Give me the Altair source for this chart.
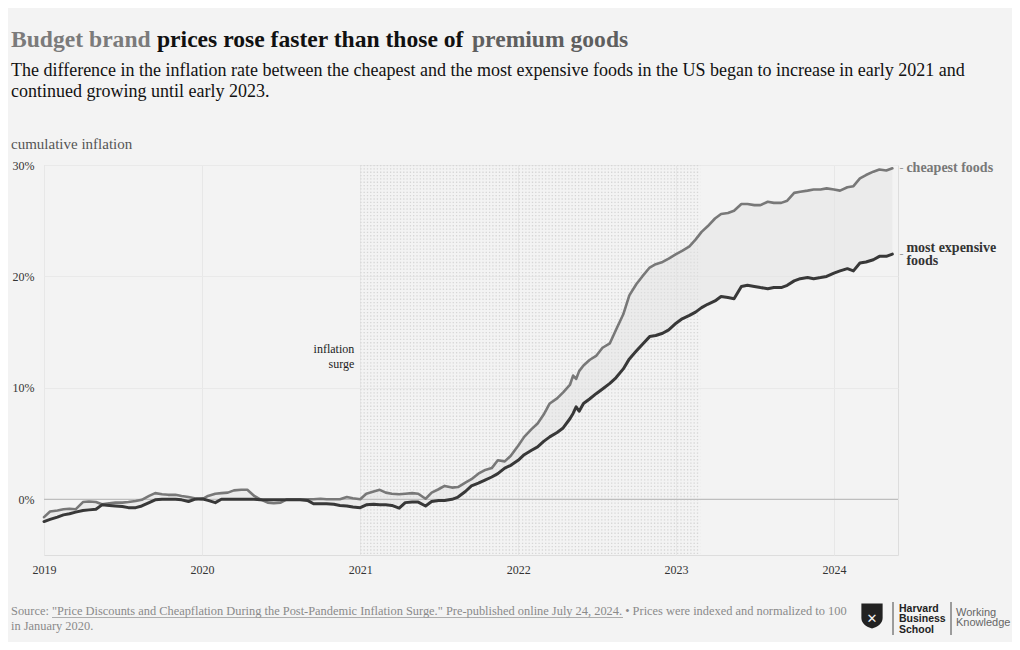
import altair as alt
import pandas as pd

SERIF = "Liberation Serif"
SANS = "Liberation Sans"

# ---------------- data ----------------
dates_2019 = ["2019-01-01", "2019-01-15", "2019-02-01", "2019-02-15", "2019-03-01", "2019-03-15",
              "2019-04-01", "2019-04-15", "2019-05-01", "2019-05-15", "2019-06-01", "2019-06-15",
              "2019-07-01", "2019-07-15", "2019-08-01", "2019-08-15", "2019-09-01", "2019-09-15",
              "2019-10-01", "2019-10-15", "2019-11-01", "2019-11-15", "2019-12-01", "2019-12-15"]
dates_2020 = ["2020-01-01", "2020-01-15", "2020-02-01", "2020-02-15", "2020-03-01", "2020-03-15",
              "2020-04-01", "2020-04-15", "2020-05-01", "2020-05-15", "2020-06-01", "2020-06-15",
              "2020-07-01", "2020-07-15", "2020-08-01", "2020-08-15", "2020-09-01", "2020-09-15",
              "2020-10-01", "2020-10-15", "2020-11-01", "2020-11-15", "2020-12-01", "2020-12-15"]
dates_2021 = ["2021-01-01", "2021-01-15", "2021-02-01", "2021-02-15", "2021-03-01", "2021-03-15",
              "2021-04-01", "2021-04-15", "2021-05-01", "2021-05-15", "2021-06-01", "2021-06-15",
              "2021-07-01", "2021-07-15", "2021-08-01", "2021-08-15", "2021-09-01", "2021-09-15",
              "2021-10-01", "2021-10-15", "2021-11-01", "2021-11-15", "2021-12-01", "2021-12-15"]
dates_2022 = ["2022-01-01", "2022-01-15", "2022-02-01", "2022-02-15", "2022-03-01", "2022-03-15",
              "2022-04-01", "2022-04-15", "2022-05-01", "2022-05-08", "2022-05-15", "2022-05-22",
              "2022-06-01", "2022-06-15", "2022-07-01", "2022-07-15", "2022-08-01", "2022-08-15",
              "2022-09-01", "2022-09-15", "2022-10-01", "2022-10-15", "2022-11-01", "2022-11-15",
              "2022-12-01", "2022-12-15"]
dates_2023 = ["2023-01-01", "2023-01-15", "2023-02-01", "2023-02-15", "2023-03-01", "2023-03-15",
              "2023-04-01", "2023-04-15", "2023-05-01", "2023-05-15", "2023-06-01", "2023-06-15",
              "2023-07-01", "2023-07-15", "2023-08-01", "2023-08-15", "2023-09-01", "2023-09-15",
              "2023-10-01", "2023-10-15", "2023-11-01", "2023-11-15", "2023-12-01", "2023-12-15"]
dates_2024 = ["2024-01-01", "2024-01-15", "2024-02-01", "2024-02-15", "2024-03-01", "2024-03-15",
              "2024-04-01", "2024-04-15", "2024-05-01", "2024-05-15"]

cheapest_2019 = [-1.6, -1.1, -1.0, -0.9, -0.85, -0.9, -0.25, -0.2, -0.25, -0.45, -0.35, -0.3,
                 -0.3, -0.25, -0.15, -0.05, 0.3, 0.55, 0.45, 0.4, 0.4, 0.3, 0.2, 0.1]
cheapest_2020 = [0.0, 0.3, 0.5, 0.55, 0.6, 0.8, 0.85, 0.85, 0.3, 0.0, -0.3, -0.35,
                 -0.3, 0.0, 0.0, 0.0, 0.0, 0.0, 0.05, 0.0, 0.0, 0.0, 0.2, 0.1]
cheapest_2021 = [0.0, 0.5, 0.7, 0.85, 0.6, 0.5, 0.45, 0.5, 0.55, 0.5, 0.05, 0.6,
                 0.9, 1.2, 1.05, 1.1, 1.5, 1.8, 2.3, 2.6, 2.8, 3.5, 3.4, 3.9]
cheapest_2022 = [4.8, 5.6, 6.3, 6.8, 7.6, 8.6, 9.05, 9.6, 10.3, 11.1, 10.8, 11.5,
                 12.0, 12.5, 12.9, 13.6, 14.0, 15.2, 16.6, 18.3, 19.3, 20.0, 20.8, 21.1,
                 21.3, 21.6]
cheapest_2023 = [22.0, 22.3, 22.7, 23.3, 24.0, 24.5, 25.2, 25.6, 25.7, 25.9, 26.5, 26.5,
                 26.4, 26.4, 26.7, 26.6, 26.6, 26.8, 27.5, 27.6, 27.7, 27.8, 27.8, 27.9]
cheapest_2024 = [27.8, 27.7, 28.0, 28.1, 28.8, 29.1, 29.4, 29.6, 29.5, 29.7]

expensive_2019 = [-2.0, -1.8, -1.6, -1.4, -1.3, -1.15, -1.0, -0.95, -0.9, -0.5, -0.55, -0.6,
                  -0.65, -0.75, -0.75, -0.6, -0.3, -0.05, 0.0, 0.0, 0.0, -0.05, -0.2, 0.0]
expensive_2020 = [0.05, -0.1, -0.3, 0.0, 0.0, 0.0, 0.0, 0.0, 0.0, -0.05, -0.05, -0.05,
                  -0.05, -0.05, -0.05, -0.05, -0.1, -0.4, -0.4, -0.4, -0.45, -0.55, -0.6, -0.7]
expensive_2021 = [-0.75, -0.5, -0.45, -0.5, -0.5, -0.55, -0.8, -0.3, -0.25, -0.25, -0.6, -0.2,
                  -0.1, -0.1, 0.0, 0.2, 0.7, 1.2, 1.45, 1.7, 2.0, 2.3, 2.8, 3.05]
expensive_2022 = [3.5, 4.0, 4.4, 4.7, 5.2, 5.6, 6.0, 6.4, 7.25, 7.7, 8.3, 7.9,
                  8.6, 9.0, 9.5, 9.9, 10.4, 10.9, 11.7, 12.6, 13.3, 13.9, 14.6, 14.7,
                  14.9, 15.2]
expensive_2023 = [15.8, 16.2, 16.5, 16.8, 17.2, 17.5, 17.8, 18.2, 18.1, 18.0, 19.1, 19.2,
                  19.1, 19.0, 18.9, 19.0, 19.0, 19.2, 19.6, 19.8, 19.9, 19.8, 19.9, 20.0]
expensive_2024 = [20.3, 20.5, 20.7, 20.5, 21.2, 21.3, 21.5, 21.8, 21.8, 22.0]

series_names = ["cheapest foods", "most expensive foods"]
series_labels = ["cheapest foods", "most expensive\nfoods"]
series_colors = ["#787878", "#383838"]
series_widths = [2.6, 3.0]

surge_start = "2021-01-01"
surge_end = "2023-02-26"
surge_label = "inflation\nsurge"
surge_label_value = 12.8

y_ticks = [0, 10, 20, 30]
y_domain = [-5, 30]

title_parts = ["Budget brand", "prices rose faster than those of", "premium goods"]
subtitle = ("The difference in the inflation rate between the cheapest and the most expensive foods "
            "in the US began to increase in early 2021 and\ncontinued growing until early 2023.")
y_label = "cumulative inflation"
footer = ('Source: "Price Discounts and Cheapflation During the Post-Pandemic Inflation Surge." '
          'Pre-published online July 24, 2024. \u2022 Prices were indexed and normalized to 100'
          '\nin January 2020.')

# ---------------- tables ----------------
dates = dates_2019 + dates_2020 + dates_2021 + dates_2022 + dates_2023 + dates_2024
cheapest = cheapest_2019 + cheapest_2020 + cheapest_2021 + cheapest_2022 + cheapest_2023 + cheapest_2024
expensive = expensive_2019 + expensive_2020 + expensive_2021 + expensive_2022 + expensive_2023 + expensive_2024

wide = pd.DataFrame({"date": dates, "cheapest": cheapest, "expensive": expensive})
long = pd.concat([
    pd.DataFrame({"date": dates, "value": cheapest, "series": series_names[0]}),
    pd.DataFrame({"date": dates, "value": expensive, "series": series_names[1]}),
], ignore_index=True)
ends = pd.DataFrame({"date": [dates[-1], dates[-1]],
                     "value": [cheapest[-1], expensive[-1]],
                     "series": series_names, "label": series_labels})
surge = pd.DataFrame({"start": [surge_start], "end": [surge_end],
                      "value": [surge_label_value], "label": [surge_label]})

W, H = 854, 390


def utc_dt(s):
    t = pd.Timestamp(s)
    return alt.DateTime(year=t.year, month=t.month, date=t.day, utc=True)


x_scale = alt.Scale(type="utc", nice=False, domain=[utc_dt("2019-01-01"), utc_dt("2024-05-28")])
y_scale = alt.Scale(domain=y_domain, nice=False, zero=False)
color_scale = alt.Scale(domain=series_names, range=series_colors)

x_axis = alt.Axis(title=None, tickCount={"interval": "year", "step": 1},
                  labelExpr="utcFormat(datum.value, '%Y')", labelFont=SERIF, labelFontSize=12,
                  labelColor="#333333", labelPadding=9, ticks=False, domain=False,
                  grid=True, gridColor="#e7e7e7", labelFlush=False)
y_axis = alt.Axis(title=None, values=y_ticks, labelExpr="datum.value + '%'", labelFont=SERIF,
                  labelFontSize=12, labelColor="#333333", labelPadding=10, ticks=False,
                  domain=False, grid=True, gridColor="#e9e9e9")


def X(field):
    return alt.X(field, type="temporal", scale=x_scale, axis=x_axis)


def Y(field):
    return alt.Y(field, type="quantitative", scale=y_scale, axis=y_axis)


one = alt.Data(values=[{"k": 1}])

# dotted texture of the "inflation surge" period: rows of dotted rules
dots = alt.Chart(alt.sequence(y_domain[0] + 0.15, y_domain[1], 0.3, as_="row")).mark_rule(
    color="#d6d6d6", strokeWidth=1.3, strokeDash=[1.3, 2.0]).encode(
    x=alt.datum(utc_dt(surge_start)), x2=alt.datum(utc_dt(surge_end)),
    y=alt.Y("row:Q", scale=y_scale, axis=y_axis))

band = alt.Chart(wide).mark_area(color="#e2e2e2", opacity=0.45).encode(
    x=X("date"), y=Y("cheapest"), y2="expensive")

zero = alt.Chart(one).mark_rule(color="#b3b3b3", strokeWidth=1).encode(y=alt.datum(0))

lines = alt.Chart(long).mark_line(strokeJoin="round", strokeCap="round").encode(
    x=X("date"), y=Y("value"),
    color=alt.Color("series:N", scale=color_scale, legend=None),
    strokeWidth=alt.StrokeWidth("series:N", scale=alt.Scale(domain=series_names, range=series_widths),
                                legend=None),
)

dash = alt.Chart(ends).mark_text(text="-", align="left", baseline="middle", dx=7, font=SERIF,
                                 fontSize=12, color="#9a9a9a").encode(x=X("date"), y=Y("value"))


def end_label(i, dy):
    return alt.Chart(ends).transform_filter(
        alt.datum.series == series_names[i]).mark_text(
        align="left", baseline="middle", dx=14, dy=dy, font=SERIF, fontSize=14, fontWeight="bold",
        lineBreak="\n", lineHeight=13, color=series_colors[i] if i == 0 else "#333333").encode(
        x=X("date"), y=Y("value"), text="label:N")


label_cheap = end_label(0, 0)
label_exp = end_label(1, -6.5)

surge_text = alt.Chart(surge).mark_text(align="right", baseline="middle", dx=-6, dy=-7.5, font=SERIF,
                                        fontSize=12, color="#222222", lineBreak="\n",
                                        lineHeight=15).encode(
    x=X("start"), y=Y("value"), text="label:N")


def txt(text, x, y, **kw):
    return alt.Chart(one).mark_text(text=text, align=kw.pop("align", "left"),
                                    baseline=kw.pop("baseline", "alphabetic"), **kw).encode(
        x=alt.value(x), y=alt.value(y))


t1 = txt(title_parts[0], -33, -118, font=SERIF, fontSize=23.6, fontWeight="bold", color="#7b7b7b")
t2 = txt(title_parts[1], 113, -118, font=SERIF, fontSize=23.6, fontWeight="bold", color="#111111")
t3 = txt(title_parts[2], 428, -118, font=SERIF, fontSize=23.6, fontWeight="bold", color="#5f5f5f")
sub = txt(subtitle, -33, -89, font=SERIF, fontSize=18, color="#111111", lineBreak="\n", lineHeight=21)
ylab = txt(y_label, -33, -16, font=SERIF, fontSize=15, color="#555555")
foot = txt(footer, -33, 450, font=SERIF, fontSize=12.4, color="#8a8a8a", lineBreak="\n", lineHeight=15)

underline = alt.Chart(one).mark_rule(color="#9a9a9a", strokeWidth=0.8).encode(
    x=alt.value(8), x2=alt.value(579), y=alt.value(452.5))

shield_path = ("M-0.85,-1 L0.85,-1 L0.85,0.15 C0.85,0.6 0.45,0.85 0,1 "
               "C-0.45,0.85 -0.85,0.6 -0.85,0.15 Z")
shield = alt.Chart(one).mark_point(shape=shield_path, filled=True, color="#222222", opacity=1,
                                   size=625).encode(x=alt.value(828), y=alt.value(451))
shield_x = alt.Chart(one).mark_text(text="\u2715", font="DejaVu Sans", fontSize=13, color="#f3f3f3",
                                    align="center", baseline="middle").encode(
    x=alt.value(828), y=alt.value(454))
sep1 = alt.Chart(one).mark_rule(color="#444444", strokeWidth=1).encode(
    x=alt.value(849), y=alt.value(437), y2=alt.value(470))
sep2 = alt.Chart(one).mark_rule(color="#444444", strokeWidth=1).encode(
    x=alt.value(907), y=alt.value(437), y2=alt.value(470))
hbs = txt("Harvard\nBusiness\nSchool", 855, 446.5, font=SANS, fontSize=10.5, fontWeight="bold",
          color="#222222", lineBreak="\n", lineHeight=10.5)
wk = txt("Working\nKnowledge", 912, 451, font=SANS, fontSize=11, color="#666666",
         lineBreak="\n", lineHeight=10)

chart = alt.layer(
    dots, band, zero, lines, dash, label_cheap, label_exp, surge_text,
    t1, t2, t3, sub, ylab, foot, underline, shield, shield_x, sep1, sep2, hbs, wk,
).properties(
    width=W, height=H,
    padding={"left": 36, "top": 157, "right": 114, "bottom": 87},
    autosize=alt.AutoSizeParams(type="none"),
    background="#f3f3f3",
).configure_view(stroke=None).configure(font=SERIF)

chart.save("out.html", embed_options={"renderer": "svg", "actions": False})
